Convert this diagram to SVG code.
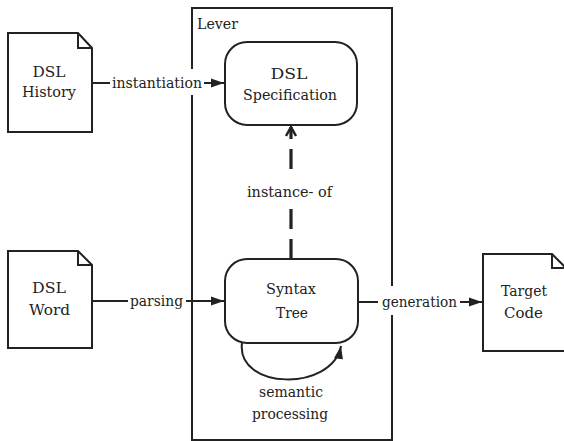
<svg xmlns="http://www.w3.org/2000/svg" width="564" height="441" viewBox="0 0 564 441">
<style>
text{font-family:'DejaVu Serif',serif;font-size:15.5px;fill:#222;}
.c{text-anchor:middle;}
.shape{fill:#fff;stroke:#222;stroke-width:2;}
.ln{fill:none;stroke:#222;stroke-width:2;}
.bg{fill:#fff;stroke:none;}
</style>
<defs>
<marker id="arr" markerUnits="userSpaceOnUse" markerWidth="14" markerHeight="10" refX="13" refY="5" orient="auto">
<path d="M0,0.5 L13,5 L0,9.5 z" fill="#222"/>
</marker>
<marker id="chev" markerUnits="userSpaceOnUse" markerWidth="14" markerHeight="14" refX="11" refY="7" orient="auto">
<path d="M2,2 L11,7 L2,12" fill="none" stroke="#222" stroke-width="2.5"/>
</marker>
</defs>
<g id="lever">
<rect x="192" y="8" width="200" height="432" fill="none" stroke="#222" stroke-width="2"/>
<text x="197" y="29" textLength="41" lengthAdjust="spacingAndGlyphs">Lever</text>
</g>
<g id="connectors">
<line class="ln" x1="92" y1="83" x2="224" y2="83" marker-end="url(#arr)"/>
<rect class="bg" x="110" y="69" width="94" height="26"/>
<text class="c" x="157" y="88" textLength="90" lengthAdjust="spacingAndGlyphs">instantiation</text>
<line class="ln" x1="92" y1="301" x2="224" y2="301" marker-end="url(#arr)"/>
<rect class="bg" x="128" y="288" width="58" height="26"/>
<text class="c" x="156.5" y="306" textLength="53" lengthAdjust="spacingAndGlyphs">parsing</text>
<line class="ln" x1="358" y1="302" x2="482" y2="302" marker-end="url(#arr)"/>
<rect class="bg" x="378" y="286" width="82" height="29"/>
<text class="c" x="419.5" y="307" textLength="75" lengthAdjust="spacingAndGlyphs">generation</text>
<line x1="291" y1="259" x2="291" y2="127" stroke="#222" stroke-width="3.2" stroke-dasharray="20 10" fill="none" marker-end="url(#chev)"/>
<rect class="bg" x="245" y="176" width="90" height="27"/>
<text class="c" x="289.5" y="197" textLength="85" lengthAdjust="spacingAndGlyphs">instance- of</text>
<path class="ln" d="M242,343 C236,390 332,392 341,346" marker-end="url(#arr)"/>
<text class="c" x="291" y="397" textLength="64" lengthAdjust="spacingAndGlyphs">semantic</text>
<text class="c" x="290" y="419" textLength="76" lengthAdjust="spacingAndGlyphs">processing</text>
</g>
<g id="dsl-history">
<path class="shape" d="M8,33 H78 L92,48 V132 H8 Z"/>
<path class="ln" d="M78,33 V48 H92"/>
<text class="c" x="49" y="77" textLength="33" lengthAdjust="spacingAndGlyphs">DSL</text>
<text class="c" x="49" y="97" textLength="54" lengthAdjust="spacingAndGlyphs">History</text>
</g>
<g id="dsl-word">
<path class="shape" d="M8,251 H78 L92,265 V348 H8 Z"/>
<path class="ln" d="M78,251 V265 H92"/>
<text class="c" x="49" y="293" textLength="34" lengthAdjust="spacingAndGlyphs">DSL</text>
<text class="c" x="49.5" y="315" textLength="41" lengthAdjust="spacingAndGlyphs">Word</text>
</g>
<g id="target-code">
<path class="shape" d="M483,254 H552 L566,268 V351 H483 Z"/>
<path class="ln" d="M552,254 V268 H566"/>
<text class="c" x="524" y="296" textLength="46" lengthAdjust="spacingAndGlyphs">Target</text>
<text class="c" x="523.5" y="318" textLength="39" lengthAdjust="spacingAndGlyphs">Code</text>
</g>
<g id="dsl-specification">
<rect class="shape" x="225" y="42" width="132" height="83" rx="22" ry="22"/>
<text class="c" x="289" y="79" textLength="37" lengthAdjust="spacingAndGlyphs">DSL</text>
<text class="c" x="290" y="100" textLength="94" lengthAdjust="spacingAndGlyphs">Specification</text>
</g>
<g id="syntax-tree">
<rect class="shape" x="225" y="259" width="133" height="84" rx="22" ry="22"/>
<text class="c" x="291" y="294" textLength="50" lengthAdjust="spacingAndGlyphs">Syntax</text>
<text class="c" x="292" y="318" textLength="32" lengthAdjust="spacingAndGlyphs">Tree</text>
</g>
</svg>
